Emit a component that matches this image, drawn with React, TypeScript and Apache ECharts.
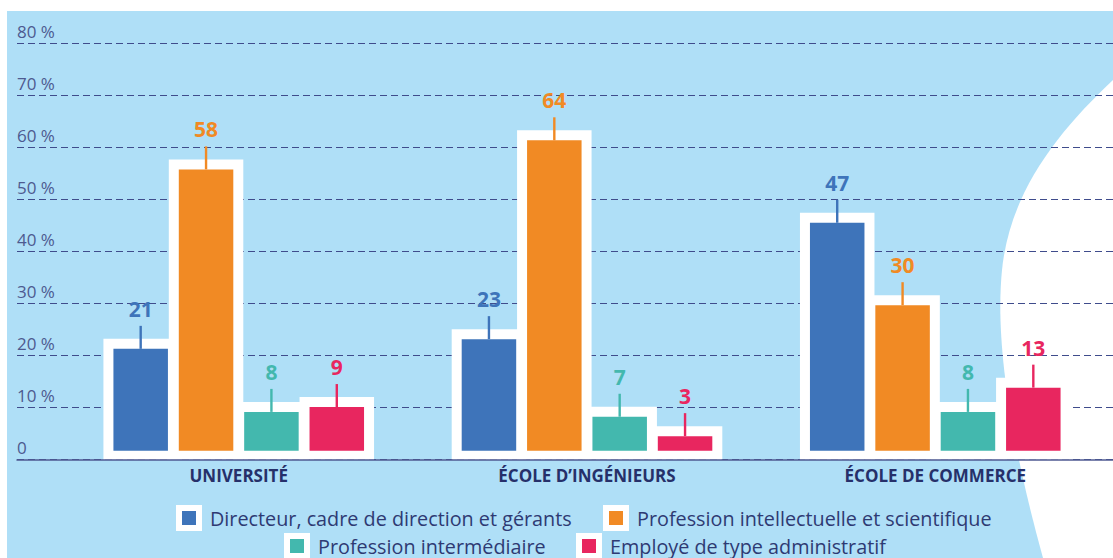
import React, { useEffect, useRef } from "react";
import * as echarts from "echarts";

const categories = ["UNIVERSITÉ", "ÉCOLE D’INGÉNIEURS", "ÉCOLE DE COMMERCE"];
const seriesNames = [
  "Directeur, cadre de direction et gérants",
  "Profession intellectuelle et scientifique",
  "Profession intermédiaire",
  "Employé de type administratif",
];
const directeur = [21, 23, 47];
const intellectuelle = [58, 64, 30];
const intermediaire = [8, 7, 8];
const employe = [9, 3, 13];
const yTickLabels = ["0", "10 %", "20 %", "30 %", "40 %", "50 %", "60 %", "70 %", "80 %"];

const colors = ["#3e74ba", "#f18a24", "#43b8ae", "#e8265f"];
const FONT = '"Open Sans", "Liberation Sans", sans-serif';

echarts.graphic.registerShape(
  "bgCurve",
  echarts.graphic.extendPath(
    "M1113,80 C1060,130 1010,190 1002,270 C996,330 1005,420 1043,558 L1113,558 Z",
    {}
  )
);

export default function App() {
  const ref = useRef<HTMLDivElement>(null);
  useEffect(() => {
    if (!ref.current) return;
    const chart = echarts.init(ref.current, undefined, { renderer: "svg" });
    const allValues = [directeur, intellectuelle, intermediaire, employe];

    const makeSeries = (k: number) => ({
      type: "custom",
      name: seriesNames[k],
      xAxisIndex: 1,
      yAxisIndex: 1,
      clip: false,
      itemStyle: { color: colors[k] },
      encode: { x: 0, y: 1 },
      data: allValues[k].map((v, i) => [i, v]),
      renderItem: (params: any, api: any) => {
        const ci = api.value(0);
        const v = api.value(1);
        const base = api.coord([ci, 0]);
        const top = api.coord([ci, v]);
        const band = api.size([1, 0])[0];
        const pitch = band * 0.1877;
        const bw = band * 0.1565;
        const cx = base[0] + (k - 1.5) * pitch;
        const x0 = cx - bw / 2;
        const y0 = base[1];
        const yt = top[1];
        return {
          type: "group",
          children: [
            {
              type: "rect",
              z2: 1,
              shape: { x: x0 - 10, y: yt - 10, width: bw + 20, height: y0 + 9 - (yt - 10) },
              style: { fill: "#ffffff" },
            },
            {
              type: "rect",
              z2: 10,
              shape: { x: x0, y: yt, width: bw, height: y0 - yt },
              style: { fill: colors[k] },
            },
            {
              type: "line",
              z2: 11,
              shape: { x1: cx, y1: yt - 23, x2: cx, y2: yt },
              style: { stroke: colors[k], lineWidth: 2.4 },
            },
            {
              type: "text",
              z2: 12,
              x: cx,
              y: yt - 40,
              style: {
                text: String(v),
                fill: colors[k],
                fontSize: 21,
                fontWeight: "bold",
                fontFamily: FONT,
                align: "center",
                verticalAlign: "middle",
              },
            },
          ],
        };
      },
    });

    const legendPos = [
      { left: 176, top: 505 },
      { left: 603, top: 505 },
      { left: 284, top: 533 },
      { left: 576, top: 533 },
    ];

    chart.setOption({
      animation: false,
      backgroundColor: "#ffffff",
      graphic: [
        {
          type: "rect",
          z: -10,
          shape: { x: 7, y: 11, width: 1106, height: 547 },
          style: { fill: "#afdff7" },
        },
        {
          type: "bgCurve",
          z: -9,
          x: 0,
          y: 0,
          scaleX: 1,
          scaleY: 1,
          style: { fill: "#ffffff" },
        },
      ],
      grid: [
        { left: 17, right: 0, top: 43.7, bottom: 98.5 },
        { left: 64.6, right: 3.6, top: 62.7, bottom: 107.3 },
      ],
      xAxis: [
        {
          type: "value",
          gridIndex: 0,
          min: 0,
          max: 1,
          z: 10,
          axisLine: { show: true, lineStyle: { color: "#4f5a92", width: 1.5 } },
          axisTick: { show: false },
          axisLabel: { show: false },
          splitLine: { show: false },
        },
        {
          type: "category",
          gridIndex: 1,
          data: categories,
          axisLine: { show: false },
          axisTick: { show: false },
          axisLabel: {
            margin: 16,
            color: "#26306a",
            fontSize: 17,
            fontWeight: "bold",
            fontFamily: FONT,
          },
        },
      ],
      yAxis: [
        {
          type: "value",
          gridIndex: 0,
          min: 0,
          max: 80,
          interval: 10,
          z: 1,
          axisLine: { show: false },
          axisTick: { show: false },
          axisLabel: {
            inside: true,
            margin: 0,
            align: "left",
            verticalAlign: "bottom",
            padding: [0, 0, 4, 0],
            color: "#4d5a90",
            fontSize: 17,
            fontFamily: FONT,
            formatter: (v: number) => yTickLabels[Math.round(v / 10)],
          },
          splitLine: {
            show: true,
            lineStyle: { color: "#3f4c8c", width: 1.1, type: [7, 4] },
          },
        },
        {
          type: "value",
          gridIndex: 1,
          min: 0,
          max: 80,
          show: false,
          splitLine: { show: false },
        },
      ],
      legend: legendPos.map((p, k) => ({
        left: p.left,
        top: p.top,
        selectedMode: false,
        itemWidth: 20,
        itemHeight: 20,
        padding: 0,
        icon: "rect",
        textStyle: {
          color: "#2e3a73",
          fontSize: 19.8,
          fontFamily: FONT,
          padding: [0, 0, 0, 6],
        },
        data: [
          {
            name: seriesNames[k],
            itemStyle: { color: colors[k], borderColor: "#ffffff", borderWidth: 6 },
          },
        ],
      })),
      series: [0, 1, 2, 3].map(makeSeries),
    });
    return () => chart.dispose();
  }, []);
  return (
    <div
      ref={ref}
      style={{ position: "fixed", left: 0, top: 0, width: 1113, height: 558 }}
    />
  );
}
